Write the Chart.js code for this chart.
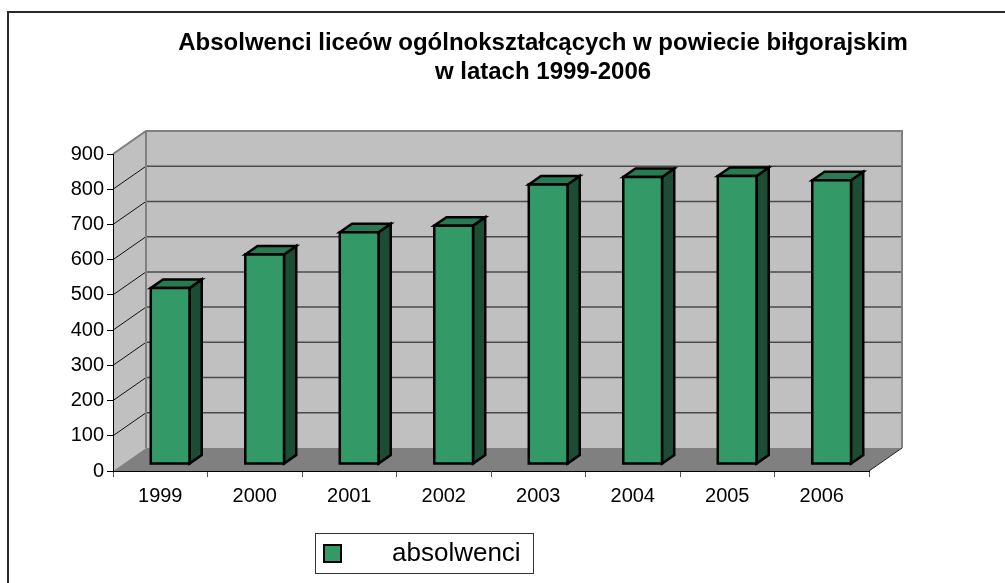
<!DOCTYPE html>
<html><head><meta charset="utf-8">
<script src="https://cdn.jsdelivr.net/npm/chart.js@4.4.0/dist/chart.umd.min.js"></script>
<style>html,body{margin:0;padding:0;background:#fff;}#wrap{width:1005px;height:583px;position:relative;}</style>
</head><body><div id="wrap"><canvas id="c"></canvas></div>
<script>
const titleLines = ['Absolwenci liceów ogólnokształcących w powiecie biłgorajskim', 'w latach 1999-2006'];
const categories = ['1999', '2000', '2001', '2002', '2003', '2004', '2005', '2006'];
const seriesLabel = 'absolwenci';
const absolwenci = [500, 595, 658, 677, 794, 815, 818, 806];
const yTickValues = [0, 100, 200, 300, 400, 500, 600, 700, 800, 900];

const DEPTH_X = 33, DEPTH_Y = 23;
const BAR_D1 = 0.3, BAR_D2 = 0.67;
const FONT = '"Liberation Sans", Arial, sans-serif';
const C_FRONT = '#339966', C_TOP = '#287a52', C_SIDE = '#1d4c35';

const threeD = {
  id: 'threeD',
  beforeDraw(chart) {
    const ctx = chart.ctx, a = chart.chartArea;
    const ys = chart.scales.y;
    const L = a.left, R = a.right, T = a.top, B = a.bottom;
    ctx.save();
    ctx.strokeStyle = '#2a2a2a'; ctx.lineWidth = 2;
    ctx.strokeRect(8, 12, 1200, 1000);
    ctx.fillStyle = '#c0c0c0';
    ctx.beginPath();
    ctx.moveTo(L, T); ctx.lineTo(L + DEPTH_X, T - DEPTH_Y); ctx.lineTo(L + DEPTH_X, B - DEPTH_Y); ctx.lineTo(L, B);
    ctx.closePath(); ctx.fill();
    ctx.fillRect(L + DEPTH_X, T - DEPTH_Y, R - L, B - T);
    ctx.fillStyle = '#808080';
    ctx.beginPath();
    ctx.moveTo(L, B); ctx.lineTo(L + DEPTH_X, B - DEPTH_Y); ctx.lineTo(R + DEPTH_X, B - DEPTH_Y); ctx.lineTo(R, B);
    ctx.closePath(); ctx.fill();
    yTickValues.forEach(v => {
      const py = ys.getPixelForValue(v);
      if (v === 0) return;
      ctx.strokeStyle = '#111'; ctx.lineWidth = 1;
      ctx.beginPath(); ctx.moveTo(L, py); ctx.lineTo(L + DEPTH_X, py - DEPTH_Y); ctx.stroke();
      if (v === yTickValues[yTickValues.length - 1]) return;
      ctx.strokeStyle = '#4a4a4a'; ctx.lineWidth = 1.5;
      ctx.beginPath(); ctx.moveTo(L + DEPTH_X, py - DEPTH_Y); ctx.lineTo(R + DEPTH_X, py - DEPTH_Y); ctx.stroke();
    });
    ctx.strokeStyle = '#808080'; ctx.lineWidth = 2;
    ctx.beginPath();
    ctx.moveTo(L, T); ctx.lineTo(L + DEPTH_X, T - DEPTH_Y); ctx.lineTo(R + DEPTH_X, T - DEPTH_Y); ctx.lineTo(R + DEPTH_X, B - DEPTH_Y);
    ctx.moveTo(L + DEPTH_X, T - DEPTH_Y); ctx.lineTo(L + DEPTH_X, B - DEPTH_Y);
    ctx.stroke();
    ctx.strokeStyle = '#222'; ctx.lineWidth = 1;
    ctx.beginPath(); ctx.moveTo(R, B); ctx.lineTo(R + DEPTH_X, B - DEPTH_Y); ctx.stroke();
    ctx.restore();
  },
  afterDatasetsDraw(chart) {
    const ctx = chart.ctx;
    const meta = chart.getDatasetMeta(0);
    const ox1 = BAR_D1 * DEPTH_X, oy1 = BAR_D1 * DEPTH_Y;
    const ox = (BAR_D2 - BAR_D1) * DEPTH_X, oy = (BAR_D2 - BAR_D1) * DEPTH_Y;
    ctx.save();
    ctx.lineWidth = 2.5; ctx.strokeStyle = '#000'; ctx.lineJoin = 'miter';
    meta.data.forEach(el => {
      const p = el.getProps(['x', 'y', 'base', 'width'], true);
      const l = p.x - p.width / 2 + ox1, r = p.x + p.width / 2 + ox1;
      const t = p.y - oy1, b = p.base - oy1;
      ctx.fillStyle = C_SIDE;
      ctx.beginPath(); ctx.moveTo(r, t); ctx.lineTo(r + ox, t - oy); ctx.lineTo(r + ox, b - oy); ctx.lineTo(r, b); ctx.closePath();
      ctx.fill(); ctx.stroke();
      ctx.fillStyle = C_TOP;
      ctx.beginPath(); ctx.moveTo(l, t); ctx.lineTo(l + ox, t - oy); ctx.lineTo(r + ox, t - oy); ctx.lineTo(r, t); ctx.closePath();
      ctx.fill(); ctx.stroke();
      ctx.fillStyle = C_FRONT;
      ctx.beginPath(); ctx.rect(l, t, r - l, b - t); ctx.fill(); ctx.stroke();
    });
    ctx.restore();
  },
  afterDraw(chart) {
    const ctx = chart.ctx;
    ctx.save();
    ctx.fillStyle = '#000';
    ctx.font = 'bold 24px ' + FONT;
    ctx.textAlign = 'center'; ctx.textBaseline = 'middle';
    ctx.fillText(titleLines[0], 543, 43);
    ctx.fillText(titleLines[1], 543, 72);
    ctx.strokeStyle = '#333'; ctx.lineWidth = 1;
    ctx.fillStyle = '#fff';
    ctx.fillRect(315.5, 533.5, 218, 40);
    ctx.strokeRect(315.5, 533.5, 218, 40);
    ctx.fillStyle = C_FRONT; ctx.strokeStyle = '#000'; ctx.lineWidth = 2;
    ctx.fillRect(324, 545, 17, 17); ctx.strokeRect(324, 545, 17, 17);
    ctx.fillStyle = '#000';
    ctx.font = '26px ' + FONT;
    ctx.textAlign = 'left'; ctx.textBaseline = 'middle';
    ctx.fillText(chart.data.datasets[0].label, 392, 554);
    ctx.restore();
  }
};

new Chart(document.getElementById('c'), {
  type: 'bar',
  data: {
    labels: categories,
    datasets: [{
      label: seriesLabel,
      data: absolwenci,
      backgroundColor: 'rgba(0,0,0,0)',
      borderWidth: 0,
      barPercentage: 0.41,
      categoryPercentage: 1.0
    }]
  },
  options: {
    responsive: true,
    maintainAspectRatio: false,
    animation: false,
    layout: { padding: { top: 154, right: 136, bottom: 72, left: 0 } },
    plugins: { legend: { display: false }, title: { display: false }, tooltip: { enabled: false } },
    scales: {
      x: {
        afterFit(s) { s.height = 40; },
        grid: { display: true, drawOnChartArea: false, drawTicks: true, tickLength: 6, color: '#555', offset: true },
        border: { display: true, color: '#000', width: 1 },
        ticks: { color: '#000', font: { family: FONT, size: 20 }, padding: 7, maxRotation: 0 }
      },
      y: {
        min: 0, max: 900,
        afterFit(s) { s.width = 113; },
        afterBuildTicks(s) { s.ticks = yTickValues.map(v => ({ value: v })); },
        grid: { display: true, drawOnChartArea: false, drawTicks: true, tickLength: 6, color: '#000' },
        border: { display: true, color: '#000', width: 1 },
        ticks: { color: '#000', font: { family: FONT, size: 20 }, padding: 3 }
      }
    }
  },
  plugins: [threeD]
});
</script>
</body></html>
